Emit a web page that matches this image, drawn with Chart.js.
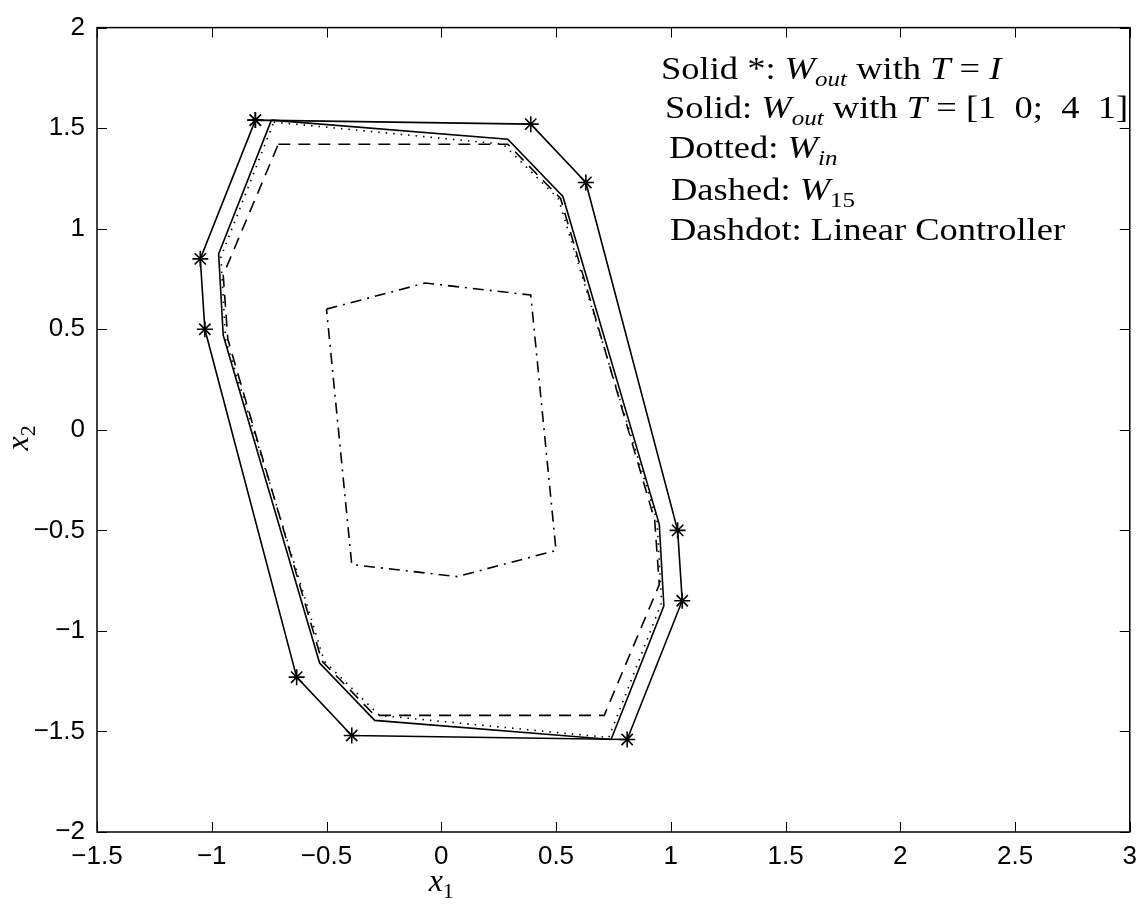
<!DOCTYPE html>
<html>
<head>
<meta charset="utf-8">
<script src="https://cdn.jsdelivr.net/npm/chart.js@4"></script>
<style>
  html, body { margin: 0; padding: 0; background: #fff; }
  #wrap { width: 1146px; height: 907px; }
</style>
</head>
<body>
<div id="wrap"><canvas id="grafico"></canvas></div>
<script>
// vertices of the regions (closed polygons, first point repeated at the end)
const woutIX = [-0.81, 0.39, 0.63, 1.03, 1.05, 0.81, -0.39, -0.63, -1.03, -1.05, -0.81]
const woutIY = [1.54, 1.52, 1.23, -0.50, -0.85, -1.54, -1.52, -1.23, 0.50, 0.85, 1.54]

const woutTX = [-0.74, 0.29, 0.53, 0.95, 0.97, 0.74, -0.29, -0.53, -0.95, -0.97, -0.74]
const woutTY = [1.54, 1.445, 1.16, -0.47, -0.875, -1.54, -1.445, -1.16, 0.47, 0.875, 1.54]

const winX = [-0.73, 0.27, 0.51, 0.94, 0.96, 0.73, -0.27, -0.51, -0.94, -0.96, -0.73]
const winY = [1.53, 1.42, 1.15, -0.45, -0.86, -1.53, -1.42, -1.15, 0.45, 0.86, 1.53]

const w15X = [-0.71, 0.29, 0.52, 0.93, 0.95, 0.71, -0.29, -0.52, -0.93, -0.95, -0.71]
const w15Y = [1.42, 1.42, 1.15, -0.45, -0.77, -1.42, -1.42, -1.15, 0.45, 0.77, 1.42]

const linearX = [-0.50, -0.07, 0.39, 0.50, 0.07, -0.39, -0.50]
const linearY = [0.60, 0.73, 0.67, -0.60, -0.73, -0.67, 0.60]

const xMin = -1.5, xMax = 3, yMin = -2, yMax = 2, passo = 0.5

// text block, one line per entry: [text, style]
const legendaLinhas = [
  [["Solid *: ", "rm"], ["W", "it"], ["out", "subit"], [" with ", "rm"], ["T", "it"], [" = ", "rm"], ["I", "it"]],
  [["Solid: ", "rm"], ["W", "it"], ["out", "subit"], [" with ", "rm"], ["T", "it"], [" = [1\u20020;\u20024\u20021]", "rm"]],
  [["Dotted: ", "rm"], ["W", "it"], ["in", "subit"]],
  [["Dashed: ", "rm"], ["W", "it"], ["15", "subrm"]],
  [["Dashdot: Linear Controller", "rm"]]
]
const legendaX = [661, 665, 669, 671, 670]
const legendaY = [79, 118, 158, 200, 240]

function pontos(xs, ys){
  return xs.map((x, i) => ({x: x, y: ys[i]}))
}

function serie(xs, ys, dash, extra){
  return Object.assign({
    data: pontos(xs, ys),
    showLine: true,
    borderColor: '#000',
    backgroundColor: '#000',
    borderWidth: 1.6,
    borderDash: dash,
    pointRadius: 0,
    fill: false,
    tension: 0
  }, extra || {})
}

const serif = '"Liberation Serif", "Times New Roman", serif'
const tam = 32
const esticar = 1.14

function fonte(estilo, t){
  if(estilo == "it") return `italic ${t}px ${serif}`
  if(estilo == "subit") return `italic ${Math.round(t * 0.7)}px ${serif}`
  if(estilo == "subrm") return `${Math.round(t * 0.7)}px ${serif}`
  return `${t}px ${serif}`
}

// draws mixed roman / italic / subscript runs, stretched sideways by sx
function escreveRico(ctx, x, y, segs, t, sx){
  ctx.save()
  ctx.translate(x, y)
  ctx.scale(sx, 1)
  let cx = 0
  segs.forEach(([txt, estilo]) => {
    ctx.font = fonte(estilo, t)
    let dy = estilo.startsWith("sub") ? t * 0.22 : 0
    ctx.fillText(txt, cx, dy)
    cx += ctx.measureText(txt).width
  })
  ctx.restore()
  return cx * sx
}

function larguraRica(ctx, segs, t){
  let w = 0
  segs.forEach(([txt, estilo]) => { ctx.font = fonte(estilo, t); w += ctx.measureText(txt).width })
  return w
}

// frame, inward ticks, text block and axis labels
const molduraPlugin = {
  id: 'moldura',
  afterDraw(chart){
    const ctx = chart.ctx
    const {left, right, top, bottom} = chart.chartArea
    const sx = chart.scales.x, sy = chart.scales.y
    ctx.save()
    ctx.strokeStyle = '#000'
    ctx.lineWidth = 1.5
    ctx.strokeRect(left, top, right - left, bottom - top)
    ctx.lineWidth = 1
    ctx.beginPath()
    sx.ticks.forEach(t => {
      let px = Math.round(sx.getPixelForValue(t.value)) + 0.5
      ctx.moveTo(px, bottom); ctx.lineTo(px, bottom - 10)
      ctx.moveTo(px, top); ctx.lineTo(px, top + 10)
    })
    sy.ticks.forEach(t => {
      let py = Math.round(sy.getPixelForValue(t.value)) + 0.5
      ctx.moveTo(left, py); ctx.lineTo(left + 10, py)
      ctx.moveTo(right, py); ctx.lineTo(right - 10, py)
    })
    ctx.stroke()

    ctx.fillStyle = '#000'
    ctx.textBaseline = 'alphabetic'
    ctx.textAlign = 'left'
    legendaLinhas.forEach((linha, i) => escreveRico(ctx, legendaX[i], legendaY[i], linha, tam, esticar))

    // x1 under the axis
    const rx = [["x", "it"], ["1", "subrm"]]
    let wx = larguraRica(ctx, rx, 32)
    escreveRico(ctx, sx.getPixelForValue(0) - wx / 2, 891, rx, 32, 1)

    // x2 beside the axis, rotated
    const ry = [["x", "it"], ["2", "subrm"]]
    ctx.translate(28, sy.getPixelForValue(0) + 8)
    ctx.rotate(-Math.PI / 2)
    escreveRico(ctx, -wx / 2, 0, ry, 32, 1)
    ctx.restore()
  }
}

const rotulo = v => String(v).replace('-', '\u2212')

const eixo = (lado) => ({
  type: 'linear',
  min: lado == 'x' ? xMin : yMin,
  max: lado == 'x' ? xMax : yMax,
  grid: { display: false, drawTicks: false },
  border: { display: false },
  ticks: {
    stepSize: passo,
    color: '#000',
    padding: lado == 'x' ? 9 : 12,
    font: { family: '"Liberation Sans", Arial, sans-serif', size: 26 },
    callback: rotulo
  },
  afterFit(scale){
    if(lado == 'x') scale.height = 75
    else scale.width = 97
  }
})

new Chart(document.getElementById('grafico'), {
  type: 'scatter',
  data: {
    datasets: [
      serie(woutIX, woutIY, [], { pointRadius: 8, pointStyle: 'star', pointBorderWidth: 1.6, pointBorderColor: '#000' }),
      serie(woutTX, woutTY, []),
      serie(winX, winY, [1.5, 6]),
      serie(w15X, w15Y, [12, 8]),
      serie(linearX, linearY, [11, 6, 2, 6])
    ]
  },
  options: {
    responsive: true,
    maintainAspectRatio: false,
    animation: false,
    layout: { padding: { top: 18, right: 16, left: 0, bottom: 0 } },
    plugins: { legend: { display: false }, tooltip: { enabled: false } },
    scales: { x: eixo('x'), y: eixo('y') }
  },
  plugins: [molduraPlugin]
})
</script>
</body>
</html>
